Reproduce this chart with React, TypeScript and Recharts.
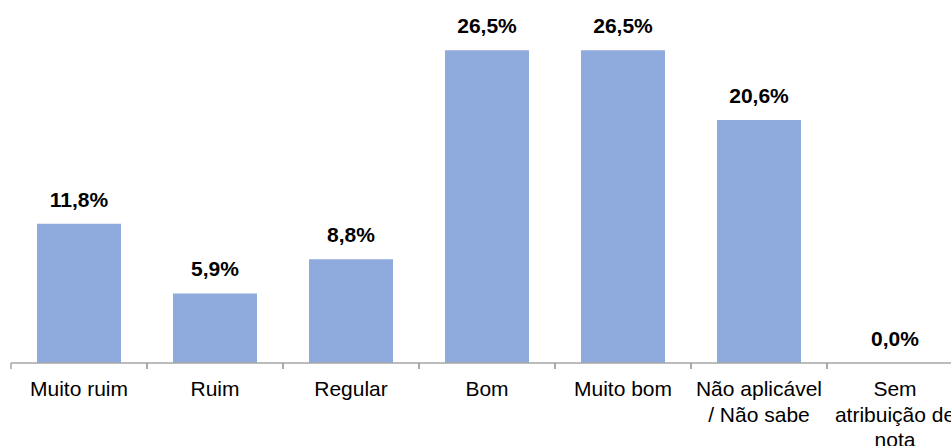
import { ComposedChart, Bar, Line, XAxis, YAxis, LabelList } from "recharts";

const categories = [
  "Muito ruim",
  "Ruim",
  "Regular",
  "Bom",
  "Muito bom",
  "Não aplicável\n/ Não sabe",
  "Sem\natribuição de\nnota",
];
const shares = [11.8, 5.9, 8.8, 26.5, 26.5, 20.6, 0.0];

const chartData = categories.map((name, i) => ({ name, share: shares[i] }));

const font = "'Liberation Sans', Arial, sans-serif";

const pct = (v: any) => `${Number(v).toFixed(1).replace(".", ",")}%`;

// category label plus the little separator ticks on the band edges
function CategoryTick(props: any) {
  const { x, y, payload } = props;
  const half = payload.offset ?? 0;
  const lines = String(payload.value).split("\n");
  return (
    <g>
      <line x1={x - half} x2={x - half} y1={y} y2={y + 6} stroke="#a6a6a6" strokeWidth={1.5} />
      <line x1={x + half} x2={x + half} y1={y} y2={y + 6} stroke="#a6a6a6" strokeWidth={1.5} />
      <text x={x} y={y + 33} textAnchor="middle" fill="#000" fontSize={21} fontFamily={font}>
        {lines.map((l, i) => (
          <tspan key={i} x={x} dy={i === 0 ? 0 : 25.5}>
            {l}
          </tspan>
        ))}
      </text>
    </g>
  );
}

export default function App() {
  return (
    <div
      style={{
        position: "absolute",
        left: 0,
        top: 0,
        width: 951,
        height: 446,
        overflow: "hidden",
        background: "#fff",
      }}
    >
      <ComposedChart
        width={970}
        height={446}
        data={chartData}
        margin={{ top: 9, right: 7, bottom: 0, left: 11 }}
      >
        <XAxis
          dataKey="name"
          height={83}
          interval={0}
          tickSize={0}
          tickMargin={0}
          tickLine={false}
          axisLine={{ stroke: "#a6a6a6", strokeWidth: 1.5 }}
          tick={<CategoryTick />}
        />
        <YAxis hide domain={[0, 30]} />
        <Bar dataKey="share" fill="#8faadc" barSize={84} isAnimationActive={false} />
        {/* invisible series only to carry the value labels (a 0-height bar drops its label) */}
        <Line
          dataKey="share"
          stroke="none"
          dot={false}
          activeDot={false}
          isAnimationActive={false}
        >
          <LabelList
            dataKey="share"
            position="top"
            offset={17}
            formatter={pct}
            style={{ fontFamily: font, fontSize: 21, fontWeight: "bold", fill: "#000" }}
          />
        </Line>
      </ComposedChart>
    </div>
  );
}
